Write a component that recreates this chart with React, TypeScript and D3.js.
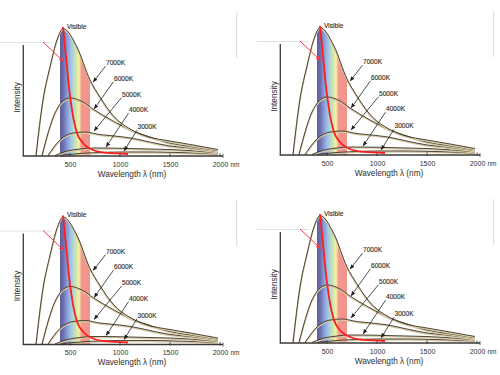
import React from "react";
import * as d3 from "d3";

// ---- Data (wavelength in nm, intensity in a.u., 7000K peak = 100) ----
const nm7000 = [160, 230, 300, 370, 430, 570, 700, 800, 930, 1100, 1270, 1500, 1700, 1980];
const int7000 = [0, 43.7, 69.7, 91, 100, 85.4, 59.4, 46, 31.5, 20.9, 15, 11.4, 8.7, 4.7];

const nm6000 = [220, 350, 420, 500, 630, 730, 930, 1130, 1300, 1500, 1700, 1980];
const int6000 = [0, 33.5, 42.1, 45.3, 42.1, 36.6, 27.2, 19.3, 14.6, 9.8, 7.2, 3.8];

const nm5000 = [280, 400, 530, 650, 800, 900, 1100, 1300, 1500, 1700, 1980];
const int5000 = [0, 12.2, 17.7, 18.5, 16.5, 15.7, 13.9, 10.6, 7.5, 5.9, 3];

const nm4000 = [350, 470, 600, 730, 850, 1000, 1300, 1500, 1700, 1980];
const int4000 = [0, 3.5, 5.1, 5.9, 5.9, 5.7, 5.1, 4.7, 3.9, 2];

const nm3000 = [400, 600, 850, 1030, 1300, 1500, 1700, 1980];
const int3000 = [0, 1.6, 2.5, 2.8, 2.8, 2.5, 2.1, 1.2];

// red curve
const nmRed = [430, 450, 470, 485, 520, 570, 630, 730, 870, 1080];
const intRed = [101.2, 85.4, 69.7, 57.1, 35.8, 17.7, 9.8, 4.3, 2.0, 1.2];

const tempLabels = ["7000K", "6000K", "5000K", "4000K", "3000K"];
const leaderTipNm = [720, 730, 730, 850, 1030];
const leaderTipInt = [57, 35.8, 18.5, 5.9, 2.8];

const xTicks = [500, 1000, 1500, 2000];
const xTickLabels = ["500", "1000", "1500", "2000"];
const visibleRange = [400, 700];

const curves = [
  { name: "7000K", nm: nm7000, val: int7000 },
  { name: "6000K", nm: nm6000, val: int6000 },
  { name: "5000K", nm: nm5000, val: int5000 },
  { name: "4000K", nm: nm4000, val: int4000 },
  { name: "3000K", nm: nm3000, val: int3000 },
];

const panels = [
  { dx: 0, dy: 0 },
  { dx: 257, dy: -1 },
  { dx: 0, dy: 188.5 },
  { dx: 257, dy: 187 },
];

const FONT = "'Liberation Sans', Arial, sans-serif";

const x = d3.scaleLinear().domain([0, 2000]).range([20, 220]);
const y = d3.scaleLinear().domain([0, 100]).range([155.5, 28.5]);

const toPts = (nm: number[], val: number[]) => nm.map((n, i) => [n, val[i]] as [number, number]);

const line = d3
  .line<[number, number]>()
  .x((d) => x(d[0]))
  .y((d) => y(d[1]))
  .curve(d3.curveMonotoneX);

const area = d3
  .area<[number, number]>()
  .x((d) => x(d[0]))
  .y0(y(0))
  .y1((d) => y(d[1]))
  .curve(d3.curveMonotoneX);

const labelPos = [
  [106, 65],
  [114, 80.5],
  [122, 96.5],
  [129, 112],
  [137.5, 129],
];

function Panel({ dx, dy, idx }: { dx: number; dy: number; idx: number }) {
  const clipId = `vis-clip-${idx}`;
  const axisY = 156;
  const axisX0 = 23.3;
  return (
    <g transform={`translate(${dx},${dy})`}>
      {/* faint frame remnants */}
      <line x1={0} y1={42.5} x2={52} y2={42.5} stroke="#d9d9d9" strokeWidth={0.8} />
      <line x1={236.7} y1={12} x2={236.7} y2={58} stroke="#dcdcdc" strokeWidth={1} />

      <defs>
        <clipPath id={clipId}>
          <path d={area(toPts(nm7000, int7000)) || ""} />
        </clipPath>
      </defs>
      {/* visible band */}
      <rect
        x={x(visibleRange[0])}
        y={20}
        width={x(visibleRange[1]) - x(visibleRange[0])}
        height={y(0) - 20 + 0.5}
        fill="url(#visGrad)"
        clipPath={`url(#${clipId})`}
      />

      {/* curves */}
      {curves
        .slice()
        .reverse()
        .map((c) => {
          const d = line(toPts(c.nm, c.val)) || "";
          return (
            <g key={c.name}>
              <path d={d} transform="translate(0,0.9)" fill="none" stroke="#d9cba8" strokeWidth={1.6} />
              <path d={d} fill="none" stroke="#3a3226" strokeWidth={0.9} />
            </g>
          );
        })}

      {/* red curve */}
      <path d={line(toPts(nmRed, intRed)) || ""} fill="none" stroke="#ff1e1e" strokeWidth={1.8} />

      {/* red arrow */}
      <line x1={43} y1={42} x2={63.5} y2={61.5} stroke="#ff3344" strokeWidth={1} markerEnd="url(#arrRed)" />

      {/* axes */}
      <line x1={axisX0} y1={45} x2={axisX0} y2={axisY} stroke="#3a3a3a" strokeWidth={1.3} />
      <line x1={axisX0 - 0.6} y1={axisY} x2={223} y2={axisY} stroke="#3a3a3a" strokeWidth={1.3} />
      {xTicks.map((t) => (
        <line key={t} x1={x(t)} x2={x(t)} y1={153.5} y2={157} stroke="#3a3a3a" strokeWidth={0.9} />
      ))}
      <line x1={223} x2={223} y1={154} y2={158} stroke="#3a3a3a" strokeWidth={0.8} />
      {xTicks.map((t, i) => (
        <text key={t} x={x(t) + 0.5} y={166.8} fontSize={7} fill="#2e2e2e" textAnchor="middle" fontFamily={FONT}>
          {xTickLabels[i]}
        </text>
      ))}
      <text x={230.5} y={166.8} fontSize={6.5} fill="#2e2e2e" fontFamily={FONT}>
        nm
      </text>
      <text x={132} y={176.5} fontSize={8.2} fill="#2e2e2e" textAnchor="middle" fontFamily={FONT}>
        Wavelength λ (nm)
      </text>
      <text
        transform="translate(20,97.5) rotate(-90)"
        fontSize={8.2}
        fill="#2e2e2e"
        textAnchor="middle"
        fontFamily={FONT}
      >
        Intensity
      </text>

      {/* Visible label */}
      <text x={67} y={28.5} fontSize={6.6} fill="#3a3226" fontFamily={FONT} stroke="#3a3226" strokeWidth={0.15}>
        Visible
      </text>

      {/* temperature labels with leaders */}
      {tempLabels.map((lab, i) => {
        const [lx, ly] = labelPos[i];
        return (
          <g key={lab}>
            <text x={lx} y={ly} fontSize={6.6} fill="#3a3226" fontFamily={FONT} stroke="#3a3226" strokeWidth={0.15}>
              {lab}
            </text>
            <line
              x1={lx - 0.5}
              y1={ly + 1.2}
              x2={x(leaderTipNm[i]) + 1.2}
              y2={y(leaderTipInt[i]) - 1.2}
              stroke="#222"
              strokeWidth={0.8}
              markerEnd="url(#arrBlack)"
            />
          </g>
        );
      })}
    </g>
  );
}

export default function App() {
  return (
    <svg
      width={500}
      height={375}
      viewBox="0 0 500 375"
      style={{ position: "absolute", left: 0, top: 0, background: "#fff" }}
    >
      <defs>
        <linearGradient
          id="visGrad"
          gradientUnits="userSpaceOnUse"
          x1={x(visibleRange[0])}
          x2={x(visibleRange[1])}
          y1={0}
          y2={0}
        >
          <stop offset="0" stopColor="#5f5d9c" />
          <stop offset="0.12" stopColor="#6d70b0" />
          <stop offset="0.22" stopColor="#8497d2" />
          <stop offset="0.36" stopColor="#a0c4e6" />
          <stop offset="0.47" stopColor="#b9dccb" />
          <stop offset="0.56" stopColor="#d8eaa6" />
          <stop offset="0.63" stopColor="#faf1a6" />
          <stop offset="0.68" stopColor="#f6c29a" />
          <stop offset="0.72" stopColor="#f2988f" />
          <stop offset="1" stopColor="#f2928b" />
        </linearGradient>
        <marker id="arrBlack" viewBox="0 0 10 10" refX="9" refY="5" markerWidth="5" markerHeight="5" orient="auto" markerUnits="userSpaceOnUse">
          <path d="M0,1 L10,5 L0,9 Z" fill="#222" />
        </marker>
        <marker id="arrRed" viewBox="0 0 10 10" refX="9" refY="5" markerWidth="5" markerHeight="5" orient="auto" markerUnits="userSpaceOnUse">
          <path d="M0,1 L10,5 L0,9 Z" fill="#ff3344" />
        </marker>
      </defs>
      {panels.map((p, i) => (
        <Panel key={i} dx={p.dx} dy={p.dy} idx={i} />
      ))}
    </svg>
  );
}
